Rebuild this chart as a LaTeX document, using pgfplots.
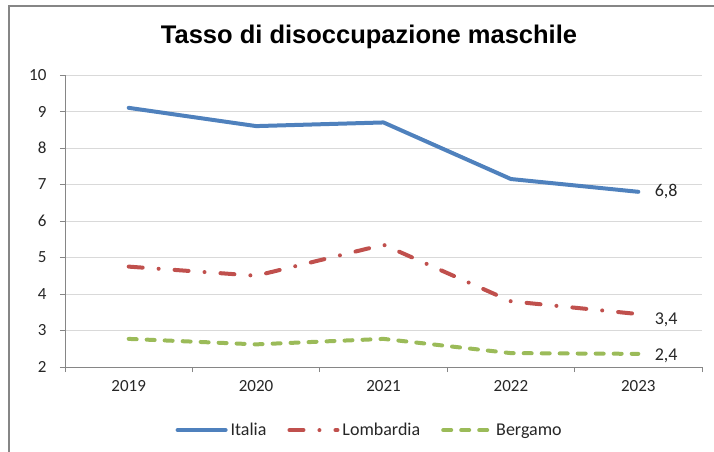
\documentclass[border=0pt]{standalone}
\usepackage{pgfplots}
\pgfplotsset{compat=1.18}
\usepackage{fontspec}
\setmainfont{Carlito}
\newfontfamily\titlefont{Liberation Sans}
\definecolor{cItalia}{HTML}{4F81BD}
\definecolor{cLomb}{HTML}{C0504D}
\definecolor{cBerg}{HTML}{9BBB59}
\definecolor{axgray}{HTML}{868686}
\definecolor{gridgray}{HTML}{D9D9D9}
\begin{document}
\begin{tikzpicture}
\useasboundingbox (0,0) rectangle (714bp,452bp);
\draw[axgray, line width=1.5bp] (9bp,0) -- (9bp,446bp) -- (714bp,446bp);
\node[font=\titlefont\bfseries\fontsize{25.5bp}{30bp}\selectfont] at (369bp,415bp) {Tasso di disoccupazione maschile};
\begin{axis}[
    at={(65bp,85bp)}, anchor=south west,
    scale only axis, width=637bp, height=292bp,
    xmin=0, xmax=5, ymin=2, ymax=10,
    xtick={0.5,1.5,2.5,3.5,4.5},
    xticklabels={2019,2020,2021,2022,2023},
    minor xtick={0,1,2,3,4,5},
    ytick={2,3,...,10},
    major x tick style={draw=none},
    minor tick length=5bp, major tick length=5bp,
    tick align=outside,
    ymajorgrids, grid style={gridgray, line width=0.8bp},
    axis x line*=bottom, axis y line*=left,
    axis line style={axgray, line width=1bp, -},
    tick style={axgray, line width=1bp},
    tick label style={font=\fontsize{17bp}{20bp}\selectfont, text=black!85},
    /pgf/number format/assume math mode=true,
    /pgf/number format/use comma,
    yticklabel style={xshift=-10bp},
    xticklabel style={yshift=-5bp},
    legend columns=3,
    legend style={at={(0.479,-0.216)}, anchor=center, draw=none,
        font=\fontsize{18bp}{21bp}\selectfont, text=black!85,
        nodes={inner xsep=3bp},
        /tikz/every even column/.append style={column sep=18bp}},
    legend image code/.code={\draw[#1] (0bp,0bp) -- (48bp,0bp);},
    clip=false,
]
\addplot[cItalia, line width=4bp, line cap=round, line join=round]
    coordinates {(0.5,9.1)(1.5,8.6)(2.5,8.7)(3.5,7.15)(4.5,6.8)};
\addplot[cLomb, line width=4bp, line cap=round, line join=round,
    dash pattern=on 14bp off 16bp on 0bp off 16bp]
    coordinates {(0.5,4.75)(1.5,4.5)(2.5,5.35)(3.5,3.8)(4.5,3.45)};
\addplot[cBerg, line width=4bp, line cap=round, line join=round,
    dash pattern=on 8bp off 10bp]
    coordinates {(0.5,2.77)(1.5,2.62)(2.5,2.77)(3.5,2.38)(4.5,2.36)};
\legend{Italia,Lombardia,Bergamo}
\node[anchor=west, font=\fontsize{18bp}{21bp}\selectfont, text=black!85] at (axis cs:4.5,6.8) [xshift=13bp] {6,8};
\node[anchor=west, font=\fontsize{18bp}{21bp}\selectfont, text=black!85] at (axis cs:4.5,3.3) [xshift=13bp] {3,4};
\node[anchor=west, font=\fontsize{18bp}{21bp}\selectfont, text=black!85] at (axis cs:4.5,2.3) [xshift=13bp] {2,4};
\end{axis}
\end{tikzpicture}
\end{document}
